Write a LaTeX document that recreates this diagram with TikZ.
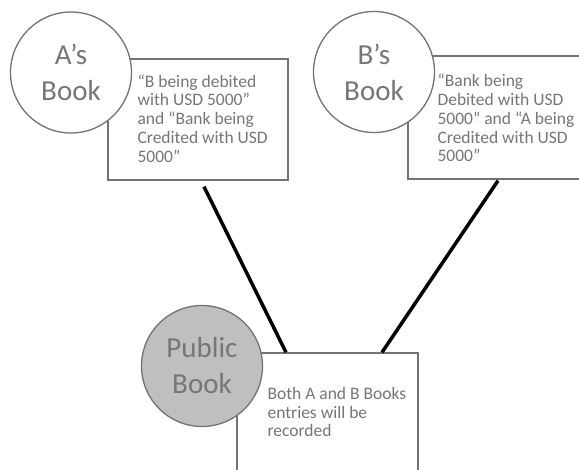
\documentclass[tikz,border=0pt]{standalone}
\usepackage{fontspec}
\setmainfont{Carlito}
\usetikzlibrary{positioning}

\definecolor{grisTexte}{RGB}{118,118,118}
\definecolor{grisBord}{RGB}{115,115,115}
\definecolor{grisFond}{RGB}{191,191,191}

\begin{document}
\begin{tikzpicture}[x=1pt,y=-1pt,
  livre/.style={circle,draw=grisBord,line width=1.3pt,fill=white,minimum size=121pt,
    inner sep=0pt,text=grisTexte,font=\fontsize{29}{36}\selectfont,align=center},
  boite/.style={rectangle,draw=grisBord,line width=1.3pt,fill=white,inner sep=0pt},
  texte/.style={anchor=north west,inner sep=0pt,text=grisTexte,
    font=\fontsize{17.5}{18.8}\selectfont,align=left},
  lien/.style={line width=3.5pt}]

% Cadre
\clip (0,0) rectangle (579,470);

% Boites
\node[boite,minimum width=180pt,minimum height=121pt] (boiteA) at (198,119.5) {};
\node[boite,minimum width=192pt,minimum height=123pt] (boiteB) at (504,117.5) {};
\node[boite,minimum width=181pt,minimum height=127pt] (boitePub) at (327.5,416.5) {};

% Cercles
\node[livre] (livreA) at (71,72.5) {A’s\\Book};
\node[livre] (livreB) at (374,72) {B’s\\Book};
\node[livre,fill=grisFond] (livrePub) at (202,366) {Public\\Book};

% Textes
\node[texte] (texteA) at ([xshift=30pt,yshift=-16pt]boiteA.north west)
  {“B being debited\\with USD 5000”\\and “Bank being\\Credited with USD\\5000”};
\node[texte] (texteB) at ([xshift=30pt,yshift=-18.5pt]boiteB.north west)
  {“Bank being\\Debited with USD\\5000” and “A being\\Credited with USD\\5000”};
\node[texte] (textePub) at ([xshift=31pt,yshift=-34.5pt]boitePub.north west)
  {Both A and B Books\\entries will be\\recorded};

% Liens
\draw[lien] ([xshift=6pt,yshift=-6pt]boiteA.south) -- ([xshift=-41.5pt]boitePub.north);
\draw[lien] ([xshift=-6pt,yshift=-1pt]boiteB.south) -- ([xshift=54.5pt]boitePub.north);
\end{tikzpicture}
\end{document}
